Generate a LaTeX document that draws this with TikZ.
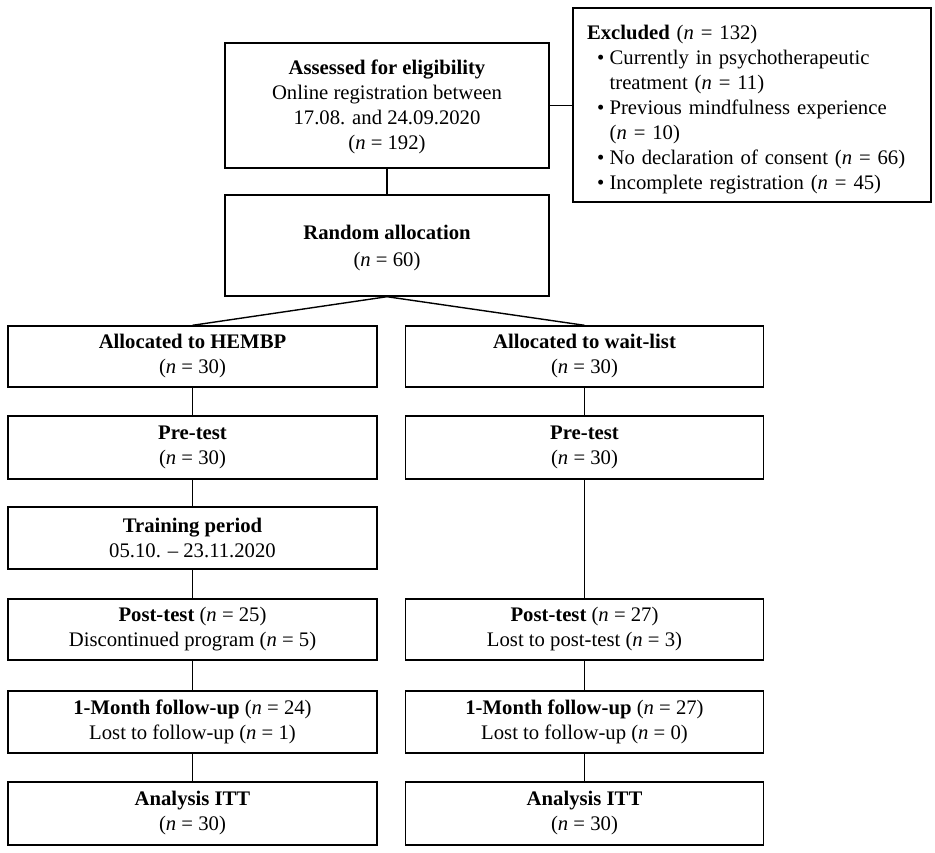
\documentclass[tikz,border=0pt]{standalone}
\usepackage{fontspec}
\setmainfont{Liberation Serif}
\begin{document}
\begin{tikzpicture}[x=0.5pt,y=-0.5pt,
  box/.style={draw, line width=0.7pt, align=center, inner sep=0pt,
    font=\fontsize{10.35pt}{12.5pt}\selectfont},
  colL/.style={box, minimum width=184.5pt},
  colR/.style={box, minimum width=178.8pt},
  link/.style={line width=0.7pt}]
\useasboundingbox (0,0) rectangle (935,852);
\newcommand{\nn}{\textit{n}}
\node[box, minimum width=162pt, minimum height=62.5pt] (assess) at (387,105.5)
  {\rule{0pt}{9pt}\textbf{Assessed for eligibility}\\Online registration between\\17.08. and 24.09.2020\\(\nn{} = 192)};
\node[box, minimum width=179pt, minimum height=97pt, align=left, text width=165pt, inner xsep=7pt] (excl) at (752,105)
  {\rule{0pt}{11.7pt}\textbf{Excluded} (\nn{} = 132)\\
   \hspace*{5pt}\makebox[6.3pt][l]{\textbullet}Currently in psychotherapeutic\\
   \hspace*{11.3pt}treatment (\nn{} = 11)\\
   \hspace*{5pt}\makebox[6.3pt][l]{\textbullet}Previous mindfulness experience\\
   \hspace*{11.3pt}(\nn{} = 10)\\
   \hspace*{5pt}\makebox[6.3pt][l]{\textbullet}No declaration of consent (\nn{} = 66)\\
   \hspace*{5pt}\makebox[6.3pt][l]{\textbullet}Incomplete registration (\nn{} = 45)};
\node[box, minimum width=162pt, minimum height=50.5pt] (random) at (387,245.5)
  {\rule{0pt}{10pt}\textbf{Random allocation}\\[1pt](\nn{} = 60)};
\node[colL, minimum height=30.5pt] (allocL) at (192.5,356.5) {\textbf{Allocated to HEMBP}\\(\nn{} = 30)};
\node[colR, minimum height=30.5pt] (allocR) at (584.5,356.5) {\textbf{Allocated to wait-list}\\(\nn{} = 30)};
\node[colL, minimum height=31.5pt] (preL) at (192.5,447.5) {\textbf{Pre-test}\\(\nn{} = 30)};
\node[colR, minimum height=31.5pt] (preR) at (584.5,447.5) {\textbf{Pre-test}\\(\nn{} = 30)};
\node[colL, minimum height=31pt] (train) at (192.5,538) {\textbf{Training period}\\05.10. – 23.11.2020};
\node[colL, minimum height=30.5pt] (postL) at (192.5,629.5) {\textbf{Post-test} (\nn{} = 25)\\Discontinued program (\nn{} = 5)};
\node[colR, minimum height=30.5pt] (postR) at (584.5,629.5) {\textbf{Post-test} (\nn{} = 27)\\Lost to post-test (\nn{} = 3)};
\node[colL, minimum height=31pt] (fuL) at (192.5,722) {\textbf{1-Month follow-up} (\nn{} = 24)\\Lost to follow-up (\nn{} = 1)};
\node[colR, minimum height=31pt] (fuR) at (584.5,722) {\textbf{1-Month follow-up} (\nn{} = 27)\\Lost to follow-up (\nn{} = 0)};
\node[colL, minimum height=31.5pt] (anaL) at (192.5,813.5) {\textbf{Analysis ITT}\\(\nn{} = 30)};
\node[colR, minimum height=31.5pt] (anaR) at (584.5,813.5) {\textbf{Analysis ITT}\\(\nn{} = 30)};
\draw[link] (assess.east) -- (excl.west |- assess.east);
\draw[link] (assess.south) -- (random.north);
\draw[link] (random.south) -- (allocL.north);
\draw[link] (random.south) -- (allocR.north);
\draw[link] (allocL) -- (preL);
\draw[link] (preL) -- (train);
\draw[link] (train) -- (postL);
\draw[link] (postL) -- (fuL);
\draw[link] (fuL) -- (anaL);
\draw[link] (allocR) -- (preR);
\draw[link] (preR) -- (postR);
\draw[link] (postR) -- (fuR);
\draw[link] (fuR) -- (anaR);
\end{tikzpicture}
\end{document}
